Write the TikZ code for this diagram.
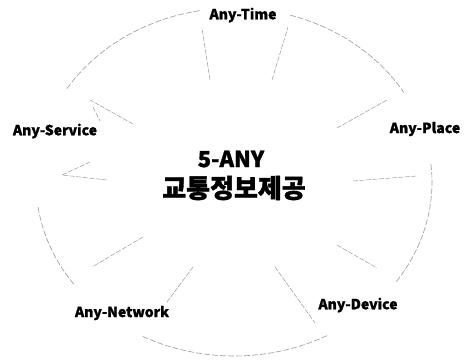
\documentclass[tikz,border=0pt]{standalone}
\usepackage{fontspec}
\setmainfont{Noto Sans CJK KR}[BoldFeatures={FakeBold=1.3}]
\begin{document}
\begin{tikzpicture}[x=1pt,y=-1pt,
  ray/.style={gray!80, line width=0.5pt, dash pattern=on 5pt off 1.5pt},
  rim/.style={gray!80, line width=0.6pt, dash pattern=on 6pt off 2pt},
  lab/.style={font=\bfseries\fontsize{14}{16}\selectfont, inner sep=0pt},
  ctr/.style={font=\bfseries\fontsize{22}{24}\selectfont, inner sep=0pt},
  ctrk/.style={font=\bfseries\fontsize{26}{28}\selectfont, inner sep=0pt}]
\useasboundingbox (0,0) rectangle (464,362);
\coordinate (c) at (234,182);
% outer ellipse broken at the labels
\draw[rim] (c) ++(73.6:198pt and 174pt) arc[start angle=73.6,end angle=31,x radius=198pt,y radius=174pt];
\draw[rim] (c) ++(6:198pt and 174pt) arc[start angle=6,end angle=-35,x radius=198pt,y radius=174pt];
\draw[rim] (c) ++(-62:198pt and 174pt) arc[start angle=-62,end angle=-118,x radius=198pt,y radius=174pt];
\draw[rim] (c) ++(-144:198pt and 174pt) arc[start angle=-144,end angle=-172,x radius=198pt,y radius=174pt];
\draw[rim] (c) ++(100:198pt and 174pt) arc[start angle=100,end angle=148,x radius=198pt,y radius=174pt];
% labels
\node[ctr] (any) at (231,159) {5-ANY};
\node[ctrk] (kr) at (234,188) {교통정보제공};
\node[lab] (time) at (243,15) {Any-Time};
\node[lab] (place) at (425,129) {Any-Place};
\node[lab] (device) at (358,305) {Any-Device};
\node[lab] (network) at (122,313) {Any-Network};
\node[lab] (service) at (55,131) {Any-Service};
% ray end points
\coordinate (t1o) at (202,28); \coordinate (t1i) at (210,80);
\coordinate (t2o) at (288,27); \coordinate (t2i) at (272,80);
\coordinate (p1o) at (387,100); \coordinate (p1i) at (337,128);
\coordinate (p2o) at (417,176); \coordinate (p2i) at (353,181);
\coordinate (d1o) at (377,268); \coordinate (d1i) at (337,245);
\coordinate (d2o) at (315,323); \coordinate (d2i) at (275,267);
\coordinate (n1o) at (92,267); \coordinate (n1i) at (143,237);
\coordinate (n2o) at (167,302); \coordinate (n2i) at (193,267);
\coordinate (s1o) at (90,100); \coordinate (s1i) at (133,124);
\coordinate (s1a) at (93,107); \coordinate (s1b) at (100,121);
\coordinate (s2o) at (62,175); \coordinate (s2i) at (107,180);
\coordinate (s2b) at (90,162);
\draw[ray] (t1i) -- (t1o);
\draw[ray] (t2i) -- (t2o);
\draw[ray] (p1i) -- (p1o);
\draw[ray] (p2i) -- (p2o);
\draw[ray] (d1i) -- (d1o);
\draw[ray] (d2i) -- (d2o);
\draw[ray] (n1i) -- (n1o);
\draw[ray] (n2i) -- (n2o);
\draw[ray] (s1i) -- (s1o);
\draw[ray] (s1a) -- (s1b);
\draw[ray] (s2i) -- (s2o) -- (s2b);
\end{tikzpicture}
\end{document}
